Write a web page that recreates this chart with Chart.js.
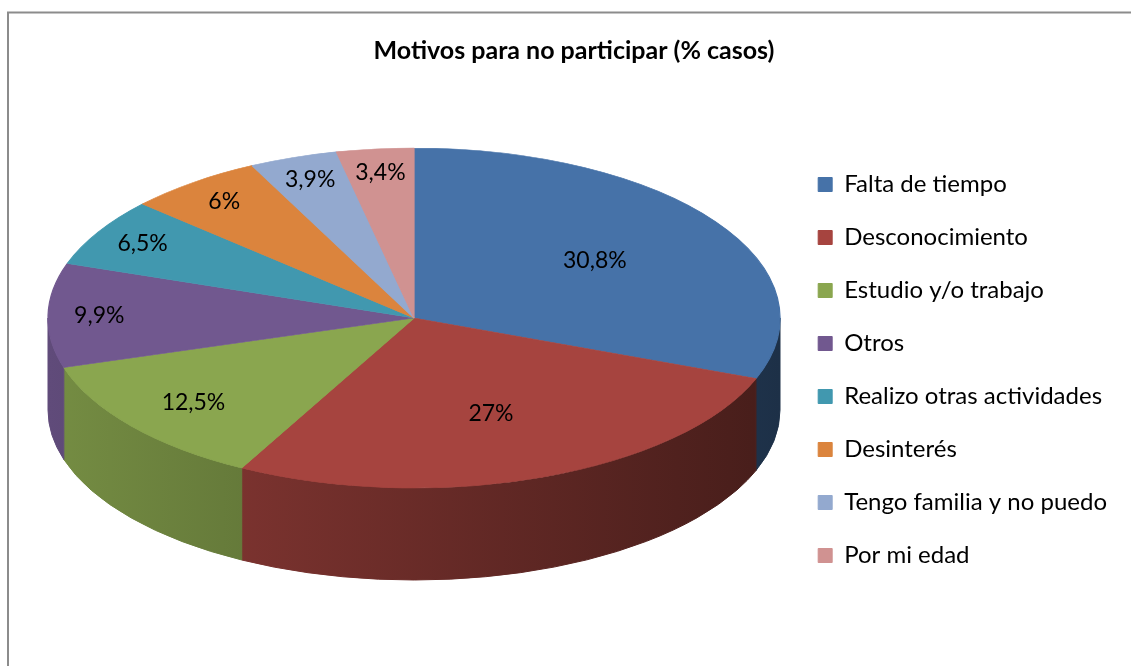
<!DOCTYPE html>
<html>
<head>
<meta charset="utf-8">
<script src="https://cdn.jsdelivr.net/npm/chart.js@4.4.1/dist/chart.umd.min.js"></script>
<style>
  html, body { margin: 0; padding: 0; background: #fff; }
  canvas { display: block; }
</style>
</head>
<body>
<canvas id="motivosChart" width="1131" height="666"></canvas>
<script>
// datos del grafico
const motivos = ["Falta de tiempo", "Desconocimiento", "Estudio y/o trabajo", "Otros",
                 "Realizo otras actividades", "Desinterés", "Tengo familia y no puedo", "Por mi edad"];
const porcentajes = [30.8, 27, 12.5, 9.9, 6.5, 6, 3.9, 3.4];
const colores = ["#4672A8", "#A6443F", "#8AA64F", "#71588F", "#4198AF", "#DB843D", "#93A9CF", "#D09291"];

// forma del pastel 3D (elipse + grosor)
const pie3d = { cx: 414, cy: 318, rx: 366, ry: 170, depth: 92 };
const fontFam = "Lato, 'Open Sans', sans-serif";

function shade(hex, f) {
    let n = parseInt(hex.slice(1), 16);
    let r = Math.round(((n >> 16) & 255) * f);
    let g = Math.round(((n >> 8) & 255) * f);
    let b = Math.round((n & 255) * f);
    return `rgb(${r},${g},${b})`;
}

const frameLine = {
    id: 'frameLine',
    beforeDraw(chart) {
        const ctx = chart.ctx;
        ctx.save();
        ctx.strokeStyle = '#8c8c8c';
        ctx.lineWidth = 2;
        ctx.strokeRect(8, 12.5, 1300, 800);
        ctx.restore();
    }
};

const pie3dPlugin = {
    id: 'pie3d',
    beforeDatasetsDraw(chart) {
        const ctx = chart.ctx;
        const arcs = chart.getDatasetMeta(0).data;
        const { cx, cy, rx, ry, depth } = pie3d;

        // paredes laterales (solo la mitad frontal)
        arcs.forEach((arc, i) => {
            let s = Math.max(arc.startAngle, 0);
            let e = Math.min(arc.endAngle, Math.PI);
            if (e <= s) return;
            let grad = ctx.createLinearGradient(cx - rx, 0, cx + rx, 0);
            grad.addColorStop(0, shade(colores[i], 0.85));
            grad.addColorStop(1, shade(colores[i], 0.42));
            ctx.beginPath();
            ctx.ellipse(cx, cy, rx, ry, 0, s, e);
            ctx.ellipse(cx, cy + depth, rx, ry, 0, e, s, true);
            ctx.closePath();
            ctx.fillStyle = grad;
            ctx.fill();
            ctx.strokeStyle = grad;
            ctx.lineWidth = 1;
            ctx.stroke();
        });

        // cara superior: circulo -> elipse
        const a = arcs[0];
        ctx.save();
        ctx.translate(cx, cy);
        ctx.scale(rx / a.outerRadius, ry / a.outerRadius);
        ctx.translate(-a.x, -a.y);
    },
    afterDatasetsDraw(chart) {
        const ctx = chart.ctx;
        ctx.restore();
        const arcs = chart.getDatasetMeta(0).data;
        const { cx, cy, rx, ry } = pie3d;
        ctx.save();
        ctx.fillStyle = '#000';
        ctx.font = `23px ${fontFam}`;
        ctx.textAlign = 'center';
        ctx.textBaseline = 'middle';
        arcs.forEach((arc, i) => {
            let v = porcentajes[i];
            let mid = (arc.startAngle + arc.endAngle) / 2;
            let frac = v >= 20 ? 0.6 : (v >= 10 ? 0.78 : 0.86);
            let x = cx + rx * frac * Math.cos(mid);
            let y = cy + ry * frac * Math.sin(mid);
            ctx.fillText(String(v).replace('.', ',') + '%', x, y);
        });
        ctx.restore();
    }
};

new Chart(document.getElementById('motivosChart'), {
    type: 'pie',
    data: {
        labels: motivos,
        datasets: [{
            data: porcentajes,
            backgroundColor: colores,
            borderColor: colores,
            borderWidth: 1
        }]
    },
    options: {
        responsive: false,
        animation: false,
        events: [],
        layout: { padding: { top: 14, left: 31, right: 14, bottom: 0 } },
        plugins: {
            title: {
                display: true,
                text: 'Motivos para no participar (% casos)',
                color: '#000',
                font: { family: fontFam, size: 25, weight: 'bold' },
                padding: { top: 22, bottom: 8 }
            },
            legend: {
                position: 'right',
                fullSize: false,
                labels: {
                    color: '#000',
                    font: { family: fontFam, size: 24 },
                    boxWidth: 14,
                    boxHeight: 14,
                    padding: 29
                }
            },
            tooltip: { enabled: false }
        }
    },
    plugins: [frameLine, pie3dPlugin]
});
</script>
</body>
</html>
